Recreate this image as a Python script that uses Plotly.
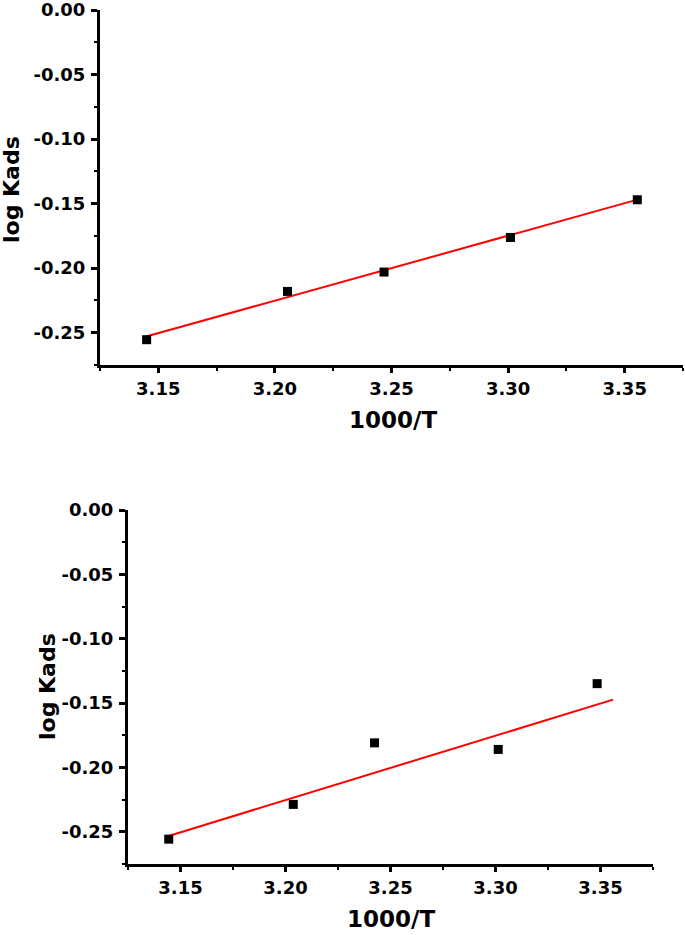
import plotly.graph_objects as go

# ---- data ----
top_x = [3.145, 3.2054, 3.2468, 3.301, 3.3554]
top_y = [-0.2554, -0.2180, -0.2030, -0.1762, -0.1470]
top_fit_x = [3.1444, 3.3543]
top_fit_y = [-0.2531, -0.1475]

bot_x = [3.1444, 3.2037, 3.2424, 3.3013, 3.3484]
bot_y = [-0.2557, -0.2287, -0.1809, -0.1860, -0.1349]
bot_fit_x = [3.1436, 3.3560]
bot_fit_y = [-0.2536, -0.1473]

x_tick_vals = [3.15, 3.20, 3.25, 3.30, 3.35]
x_tick_labels = ["3.15", "3.20", "3.25", "3.30", "3.35"]
y_tick_vals = [0.0, -0.05, -0.10, -0.15, -0.20, -0.25]
y_tick_labels = ["0.00", "-0.05", "-0.10", "-0.15", "-0.20", "-0.25"]

x_title = "1000/T"
y_title = "log Kads"

W, H = 685, 935
FONT = "DejaVu Sans"

fig = go.Figure()

for xs, ys, fx, fy, xa, ya in [
    (top_x, top_y, top_fit_x, top_fit_y, "x", "y"),
    (bot_x, bot_y, bot_fit_x, bot_fit_y, "x2", "y2"),
]:
    fig.add_trace(go.Scatter(x=fx, y=fy, mode="lines",
                             line=dict(color="#ff0000", width=2),
                             xaxis=xa, yaxis=ya, showlegend=False,
                             hoverinfo="skip"))
    fig.add_trace(go.Scatter(x=xs, y=ys, mode="markers",
                             marker=dict(symbol="square", size=9, color="black",
                                         line=dict(width=0)),
                             xaxis=xa, yaxis=ya, showlegend=False))


def xaxis_cfg(domain, anchor):
    return dict(domain=domain, anchor=anchor, range=[3.125, 3.375],
                tickvals=x_tick_vals, ticktext=x_tick_labels,
                showline=True, linecolor="black", linewidth=3,
                ticks="outside", ticklen=5, tickwidth=2.5, tickcolor="black",
                minor=dict(ticks="outside", ticklen=3, tickwidth=2, dtick=0.025,
                           tick0=3.125, tickcolor="black"),
                showgrid=False, zeroline=False, automargin=False,
                ticklabeloverflow="allow",
                tickfont=dict(family=FONT, size=18, color="black", weight="bold"),
                ticklabelstandoff=0)


def yaxis_cfg(domain, anchor):
    return dict(domain=domain, anchor=anchor, range=[-0.275, 0.0],
                tickvals=y_tick_vals, ticktext=y_tick_labels,
                showline=True, linecolor="black", linewidth=3,
                ticks="outside", ticklen=6, tickwidth=2.5, tickcolor="black",
                minor=dict(ticks="outside", ticklen=3, tickwidth=2, dtick=0.025,
                           tick0=0.0, tickcolor="black"),
                showgrid=False, zeroline=False, automargin=False,
                ticklabeloverflow="allow",
                tickfont=dict(family=FONT, size=18, color="black", weight="bold"),
                ticklabelstandoff=2)


fig.update_layout(
    template="none",
    width=W, height=H,
    margin=dict(l=0, r=0, t=0, b=0, pad=0),
    paper_bgcolor="white", plot_bgcolor="white",
    showlegend=False,
    xaxis=xaxis_cfg([100 / W, 683 / W], "y"),
    yaxis=yaxis_cfg([1 - 365 / H, 1 - 10 / H], "x"),
    xaxis2=xaxis_cfg([128 / W, 653 / W], "y2"),
    yaxis2=yaxis_cfg([1 - 864 / H, 1 - 510 / H], "x2"),
)

# axis titles
for (cx, cy, txt, ang, size) in [
    (393, 420, x_title, 0, 23),
    (11, 190, y_title, -90, 22),
    (391, 919, x_title, 0, 23),
    (47, 687, y_title, -90, 22),
]:
    fig.add_annotation(x=cx / W, y=1 - cy / H, xref="paper", yref="paper",
                       text=txt, showarrow=False, textangle=ang,
                       xanchor="center", yanchor="middle",
                       font=dict(family=FONT, size=size, color="black", weight="bold"))

fig.write_html("out.html",
               config={"displayModeBar": False},
               post_script="document.body.style.margin='0px';"
                           "document.body.style.overflow='hidden';")
